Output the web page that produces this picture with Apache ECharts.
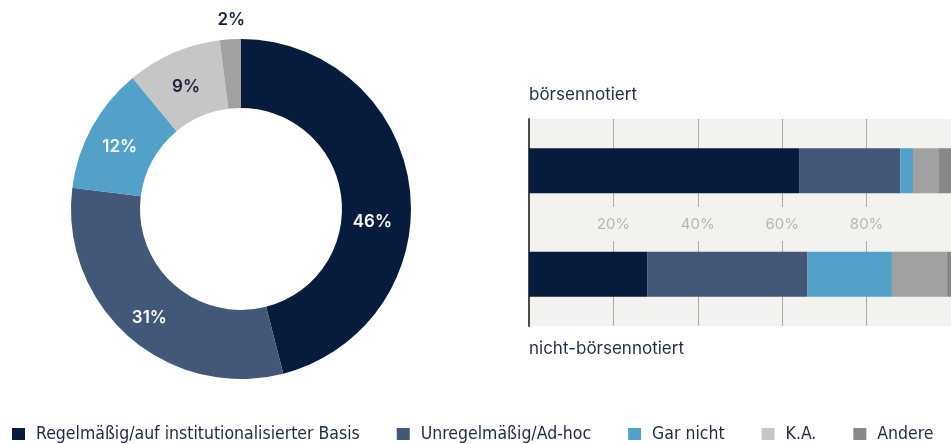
<!DOCTYPE html>
<html>
<head>
<meta charset="utf-8">
<script src="https://cdn.jsdelivr.net/npm/echarts@6/dist/echarts.min.js"></script>
<style>
  html, body { margin: 0; padding: 0; background: #fff; }
  #chart { width: 951px; height: 444px; }
</style>
</head>
<body>
<div id="chart"></div>
<script>
// Kategorien der Antworten
const answerNames = ['Regelmäßig/auf institutionalisierter Basis', 'Unregelmäßig/Ad-hoc', 'Gar nicht', 'K.A.', 'Andere']
const legendColors = ['#071b3c', '#435778', '#53a1c8', '#c6c6c6', '#888888']

// Ring: Gesamtwerte in %
const pieValues = [46, 31, 12, 9, 2]
const pieColors = ['#071b3c', '#435778', '#53a1c8', '#c6c6c6', '#a0a1a0']
const pieLabelColors = ['#ffffff', '#ffffff', '#ffffff', '#13213f', '#13213f']

// Balken: börsennotiert vs. nicht-börsennotiert
const barCategories = ['börsennotiert', 'nicht-börsennotiert']
const barValues = [
  [64, 28], // Regelmäßig
  [24, 38], // Unregelmäßig
  [3, 20],  // Gar nicht
  [6, 13],  // K.A.
  [3, 1],   // Andere
]
const barColors = ['#071b3c', '#435778', '#53a1c8', '#a0a1a0', '#888888']
const xTicks = [20, 40, 60, 80]

const font = 'Inter, "Liberation Sans", sans-serif'

// Label-Verschiebungen wie im Original (46% tiefer, 2% ausserhalb)
const pieLabelOffsets = [[-6, 30], [0, 5], [0, 5], [0, 5], [-1, -51]]

const chart = echarts.init(document.getElementById('chart'))

const pieData = pieValues.map((v, i) => ({
  name: answerNames[i],
  value: v,
  itemStyle: { color: pieColors[i] },
  label: { color: pieLabelColors[i], offset: pieLabelOffsets[i] },
}))

const barSeries = answerNames.map((name, i) => ({
  name: name,
  type: 'bar',
  stack: 'total',
  barWidth: 45,
  data: barValues[i],
  itemStyle: { color: barColors[i] },
  emphasis: { disabled: true },
}))

const option = {
  animation: false,
  textStyle: { fontFamily: font },
  legend: {
    left: 12,
    top: 425,
    padding: 0,
    itemWidth: 13,
    itemHeight: 12,
    itemGap: 37,
    icon: 'rect',
    textStyle: {
      fontSize: 17.5,
      color: '#1c2a44',
      fontFamily: '"Liberation Sans Narrow", "DejaVu Sans Condensed", Roboto, sans-serif',
      padding: [0, 0, 0, 6],
    },
    data: answerNames.map((n, i) => ({ name: n, itemStyle: { color: legendColors[i] } })),
  },
  grid: {
    left: 529,
    right: 0,
    top: 119,
    bottom: 118,
    outerBoundsMode: 'none',
    show: true,
    backgroundColor: '#f3f2ee',
    borderWidth: 0,
  },
  xAxis: [
    {
      type: 'value',
      min: 0,
      max: 100,
      interval: 20,
      z: 0,
      axisLine: { show: false },
      axisTick: { show: false },
      axisLabel: { show: false },
      splitLine: { show: true, lineStyle: { color: '#a9a9ae', width: 1 } },
    },
    {
      type: 'value',
      position: 'top',
      offset: -122,
      min: 0,
      max: 100,
      interval: 20,
      z: 5,
      axisLine: { show: false },
      axisTick: { show: false },
      splitLine: { show: false },
      axisLabel: {
        margin: 0,
        showMinLabel: false,
        showMaxLabel: false,
        color: '#b5b5b5',
        fontSize: 15,
        lineHeight: 16,
        backgroundColor: '#f3f2ee',
        padding: [9, 6],
        formatter: (v) => (xTicks.indexOf(v) >= 0 ? v + '%' : ''),
      },
    },
  ],
  yAxis: {
    type: 'category',
    inverse: true,
    data: barCategories,
    axisLine: { show: true, lineStyle: { color: '#4a4a4a', width: 2 } },
    axisTick: { show: false },
    axisLabel: { show: false },
    splitLine: { show: false },
  },
  graphic: [
    {
      type: 'text',
      left: 529,
      top: 86,
      style: { text: barCategories[0], fontSize: 17, fill: '#1f2d4a', fontFamily: font },
    },
    {
      type: 'text',
      left: 529,
      top: 340,
      style: { text: barCategories[1], fontSize: 17, fill: '#1f2d4a', fontFamily: font },
    },
  ],
  series: [
    {
      name: 'Gesamt',
      type: 'pie',
      center: [241, 209],
      radius: [101, 170],
      startAngle: 90,
      clockwise: true,
      avoidLabelOverlap: false,
      emphasis: { disabled: true },
      label: {
        show: true,
        position: 'inside',
        formatter: '{c}%',
        fontSize: 17,
        fontWeight: 600,
        fontFamily: font,
      },
      labelLine: { show: false },
      data: pieData,
    },
    ...barSeries,
  ],
}

chart.setOption(option)
window.addEventListener('resize', () => chart.resize())
</script>
</body>
</html>
